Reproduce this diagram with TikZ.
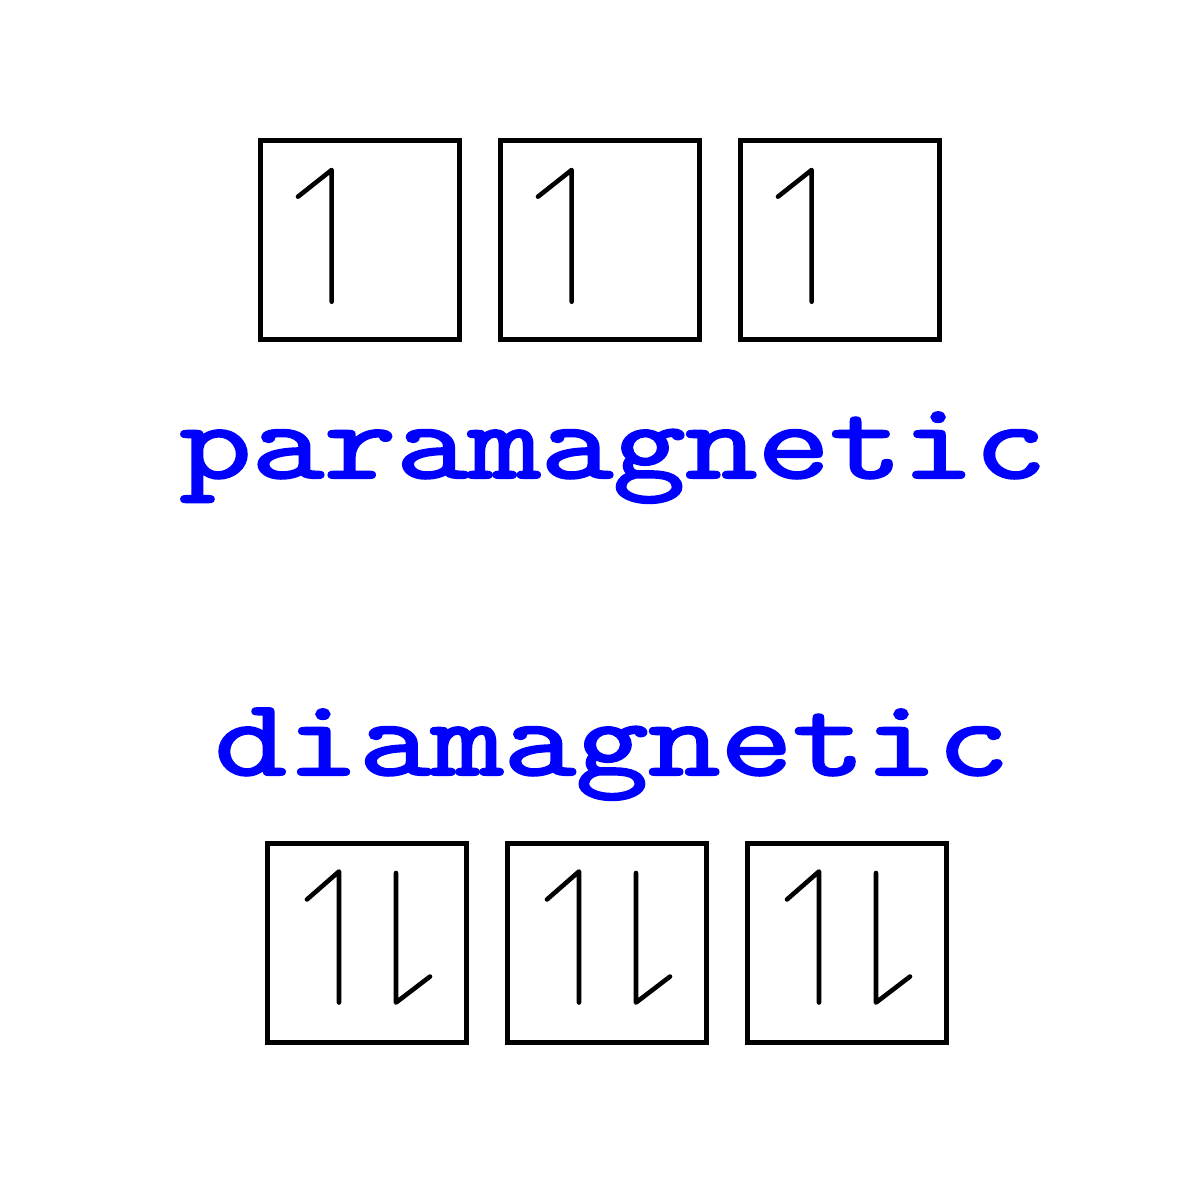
\documentclass[tikz,border=0pt]{standalone}
\usepackage{fontspec}
\newfontfamily\lblfont[FakeBold=2]{Latin Modern Mono}
\definecolor{labelblue}{RGB}{0,0,255}
\begin{document}
\begin{tikzpicture}[x=0.01cm,y=-0.01cm,
  orbital/.style={draw=black,line width=1.5pt,minimum width=1.99cm,minimum height=1.99cm,inner sep=0pt,outer sep=0pt},
  spin/.style={draw=black,line width=1.3pt,line cap=round,line join=round},
  lbl/.style={text=labelblue,font=\lblfont\fontsize{39.9}{39.9}\selectfont,anchor=base,inner sep=0pt}]
\useasboundingbox (0,0) rectangle (1200,1200);
\fill[white] (0,0) rectangle (1200,1200);
% top row
\foreach \n/\x in {a/360,b/600,c/840}{
  \node[orbital] (p\n) at (\x,240) {};
  \draw[spin] ([xshift=-0.62cm,yshift=0.433cm]p\n.center) -- ([xshift=-0.283cm,yshift=0.70cm]p\n.center) -- ([xshift=-0.283cm,yshift=-0.617cm]p\n.center);
}
\node[lbl] (para) at (613,478) {\scalebox{1}[0.78]{paramagnetic}};
\node[lbl] (dia) at (612,775) {\scalebox{1}[0.78]{diamagnetic}};
% bottom row
\foreach \n/\x in {a/367,b/607,c/847}{
  \node[orbital] (d\n) at (\x,943) {};
  \draw[spin] ([xshift=-0.60cm,yshift=0.435cm]d\n.center) -- ([xshift=-0.28cm,yshift=0.715cm]d\n.center) -- ([xshift=-0.28cm,yshift=-0.595cm]d\n.center);
  \draw[spin] ([xshift=0.29cm,yshift=0.70cm]d\n.center) -- ([xshift=0.29cm,yshift=-0.595cm]d\n.center) -- ([xshift=0.63cm,yshift=-0.335cm]d\n.center);
}
\end{tikzpicture}
\end{document}
